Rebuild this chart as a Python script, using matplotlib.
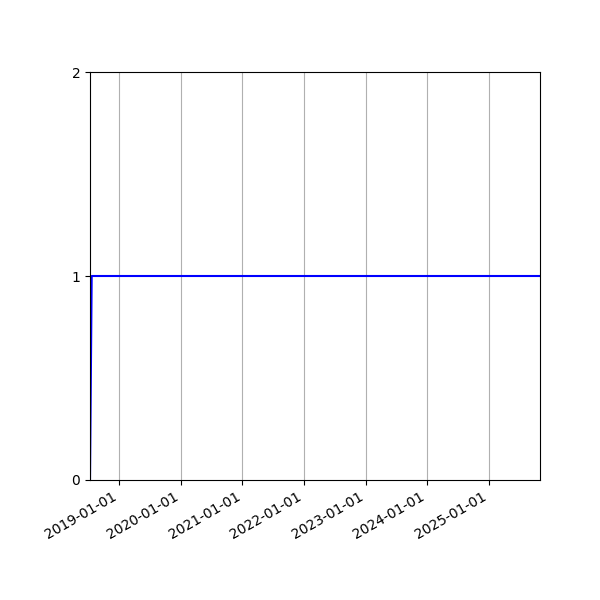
import numpy as np
import pandas as pd
import matplotlib
matplotlib.use('Agg')
import matplotlib.pyplot as plt
import matplotlib.dates as mdates

dates = pd.to_datetime(['2018-07-13', '2018-07-23', '2025-10-30'])
values = [0, 1, 1]

fig = plt.figure(figsize=(6, 6), dpi=100)
ax = fig.add_subplot(111)
ax.plot(dates, values, color='b', lw=1.5)
ax.set_xlim(dates[0], dates[-1])
ax.set_ylim(0, 2)
ax.set_yticks([0, 1, 2])
ax.xaxis.set_major_locator(mdates.YearLocator())
ax.xaxis.set_major_formatter(mdates.DateFormatter('%Y-%m-%d'))
ax.grid(axis='x')
fig.autofmt_xdate()
fig.subplots_adjust(left=0.15)
fig.savefig('out.png')
